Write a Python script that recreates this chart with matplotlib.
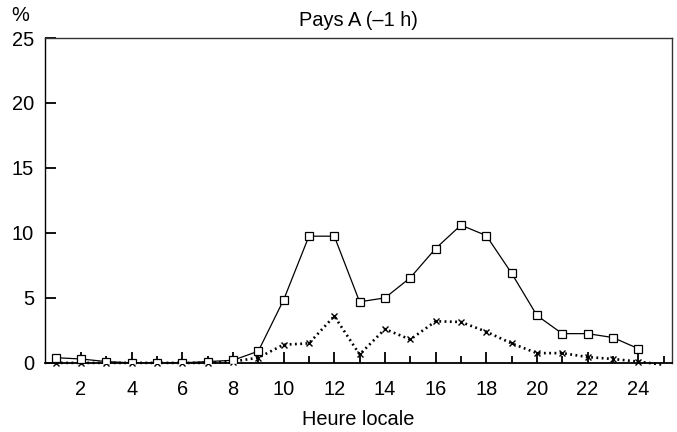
import numpy as np
import matplotlib
matplotlib.use("Agg")
import matplotlib.pyplot as plt
from matplotlib.ticker import MultipleLocator, FixedLocator

plt.rcParams['font.family'] = ['Liberation Sans', 'DejaVu Sans']

# heures locales et parts horaires (%)
heures = list(range(1, 25))
serie_a = [0.4, 0.3, 0.1, 0.0, 0.0, 0.0, 0.1, 0.2, 0.9, 4.85,
           9.75, 9.75, 4.7, 5.0, 6.55, 8.8, 10.6, 9.8, 6.9, 3.65,
           2.25, 2.25, 1.95, 1.1]
heures_b = list(range(1, 26))
serie_b = [0.0, 0.0, 0.0, 0.0, 0.0, 0.0, 0.0, 0.1, 0.4, 1.4,
           1.5, 3.6, 0.65, 2.6, 1.8, 3.2, 3.15, 2.4, 1.5, 0.75,
           0.75, 0.45, 0.3, 0.1, -0.15]
xticks = [2, 4, 6, 8, 10, 12, 14, 16, 18, 20, 22, 24]
yticks = [0, 5, 10, 15, 20, 25]

fig = plt.figure(figsize=(6.77, 4.32), dpi=100)
ax = fig.add_axes([0.0665, 0.16, 0.926, 0.752])

fs = 14.4
ax.plot(heures, serie_a, color='black', lw=0.9, marker='s', ms=5.4,
        mfc='white', mec='black', mew=0.9, zorder=3)
ax.plot(heures_b, serie_b, color='black', lw=1.9, ls=(0, (0.7, 1.3)),
        marker='x', ms=5, mew=1.0, markevery=list(range(24)), zorder=2,
        clip_on=False)

ax.set_xlim(0.58, 25.33)
ax.set_ylim(0, 25)
ax.xaxis.set_major_locator(FixedLocator(xticks))
ax.xaxis.set_minor_locator(MultipleLocator(1))
ax.set_yticks(yticks)

ax.tick_params(axis='x', which='major', direction='in', length=8, width=1.3,
               pad=12, labelsize=fs)
ax.tick_params(axis='x', which='minor', direction='in', length=5, width=1.3)
ax.tick_params(axis='y', direction='in', length=8, width=1.3, pad=8,
               labelsize=fs)
for sp in ax.spines.values():
    sp.set_linewidth(1.0)
    sp.set_color('#333333')
ax.spines['bottom'].set_linewidth(1.3)
ax.spines['bottom'].set_color('black')
ax.spines['left'].set_color('black')

ax.set_title('Pays A (–1 h)', fontsize=fs, pad=9)
ax.set_xlabel('Heure locale', fontsize=fs, labelpad=8)
ax.text(-0.025, 1.04, '%', transform=ax.transAxes, fontsize=fs,
        ha='right', va='bottom')

fig.savefig('out.png', dpi=100)
